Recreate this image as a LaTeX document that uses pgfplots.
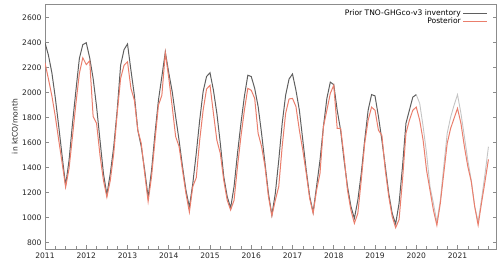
\documentclass[border=0pt]{standalone}
\usepackage{fontspec}
\setmainfont{DejaVu Sans}
\usepackage{pgfplots}
\usepackage{pgfplotstable}
\pgfplotsset{compat=1.18}
\definecolor{priorc}{HTML}{5F5F5F}
\definecolor{priorl}{HTML}{C4C4C4}
\definecolor{postc}{HTML}{EA7E6C}
\definecolor{spine}{HTML}{8C8C8C}
\pgfplotstableread{
m P Q
0 2400 2240
1 2300 2110
2 2160 1975
3 1960 1810
4 1730 1620
5 1490 1435
6 1260 1245
7 1460 1395
8 1755 1650
9 2020 1915
10 2275 2155
11 2385 2280
12 2400 2225
13 2280 2255
14 2115 1810
15 1890 1755
16 1620 1500
17 1355 1300
18 1185 1165
19 1355 1300
20 1570 1515
21 1860 1835
22 2220 2115
23 2345 2220
24 2390 2248
25 2180 2035
26 1980 1940
27 1700 1700
28 1570 1595
29 1380 1355
30 1165 1130
31 1380 1330
32 1675 1620
33 1940 1900
34 2130 1980
35 2325 2320
36 2160 2120
37 2010 1890
38 1810 1650
39 1620 1570
40 1410 1380
41 1220 1195
42 1085 1045
43 1275 1250
44 1515 1320
45 1780 1620
46 2010 1860
47 2130 2030
48 2160 2060
49 2020 1835
50 1835 1620
51 1595 1515
52 1330 1300
53 1170 1140
54 1078 1062
55 1250 1140
56 1515 1410
57 1755 1650
58 1970 1860
59 2140 2035
60 2130 2020
61 2035 1955
62 1890 1675
63 1675 1570
64 1435 1410
65 1195 1170
66 1022 1015
67 1195 1140
68 1460 1250
69 1755 1570
70 1980 1835
71 2110 1950
72 2150 1955
73 2020 1890
74 1860 1700
75 1620 1540
76 1380 1355
77 1170 1155
78 1045 1035
79 1250 1220
80 1460 1355
81 1730 1730
82 1955 1860
83 2085 1995
84 2065 2060
85 1860 1715
86 1700 1715
87 1460 1490
88 1250 1220
89 1090 1060
90 995 955
91 1140 1035
92 1355 1300
93 1620 1595
94 1860 1780
95 1985 1885
96 1975 1860
97 1810 1700
98 1620 1660
99 1410 1380
100 1195 1170
101 1035 1010
102 950 920
103 1115 985
104 1410 1300
105 1755 1675
106 1860 1780
107 1965 1860
108 1985 1885
109 1915 1780
110 1730 1620
111 1515 1380
112 1250 1220
113 1115 1060
114 965 940
115 1140 1115
116 1410 1355
117 1675 1595
118 1805 1715
119 1900 1795
120 1985 1875
121 1835 1755
122 1650 1570
123 1460 1410
124 1300 1290
125 1090 1090
126 968 941
127 1150 1120
128 1350 1290
129 1568 1467
}\datatab
\begin{document}
\begin{tikzpicture}
\begin{axis}[
  scale only axis,
  width=451bp, height=245bp,
  xmin=0, xmax=131.2,
  ymin=750, ymax=2710,
  xtick={0,12,...,120},
  xticklabels={2011,2012,2013,2014,2015,2016,2017,2018,2019,2020,2021},
  minor xtick={3,6,...,129},
  ytick={800,1000,...,2600},
  tick align=inside,
  xtick pos=bottom,
  ytick pos=both,
  major tick length=3.5bp,
  minor tick length=2.5bp,
  every tick/.style={spine, line width=0.6bp},
  axis line style={spine, line width=0.8bp},
  tick label style={font=\fontsize{7.6}{8.5}\selectfont, text=black!85},
  /pgf/number format/assume math mode=true,
  /pgf/number format/1000 sep={},
  ylabel={in ktCO/month},
  ylabel style={font=\fontsize{7.6}{8.5}\selectfont, text=black!85},
  ylabel shift=-3bp,
  xticklabel shift=0.5bp,
  legend plot pos=right,
  legend cell align=right,
  legend style={at={(1,1)}, anchor=north east, xshift=-7bp, yshift=-3bp,
    draw=none, fill=none, font=\fontsize{7.6}{8.5}\selectfont,
    row sep=-3.5bp, inner sep=1bp},
  legend image code/.code={\draw[#1] (0bp,0bp) -- (24bp,0bp);},
]
\addplot[priorl, line width=0.9bp, forget plot] table[x=m, y=P, restrict x to domain=108:129] {\datatab};
\addplot[priorc, line width=1bp] table[x=m, y=P, restrict x to domain=0:108] {\datatab};
\addlegendentry{Prior TNO-GHGco-v3 inventory}
\addplot[postc, line width=1bp] table[x=m, y=Q] {\datatab};
\addlegendentry{Posterior}
\end{axis}
\pgfresetboundingbox
\path ([shift={(-45bp,-16bp)}]current axis.south west) rectangle ([shift={(4bp,4bp)}]current axis.north east);
\end{tikzpicture}
\end{document}
